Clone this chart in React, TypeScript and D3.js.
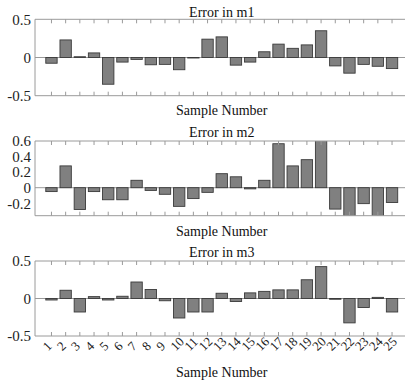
import React from "react";
import * as d3 from "d3";

const samples = d3.range(1, 26);
const m1Errors = [-0.075, 0.23, 0.01, 0.06, -0.35, -0.06, -0.025, -0.095, -0.09, -0.16, -0.005, 0.24, 0.27, -0.1, -0.06, 0.075, 0.175, 0.12, 0.165, 0.35, -0.11, -0.205, -0.09, -0.115, -0.145];
const m2Errors = [-0.05, 0.28, -0.28, -0.05, -0.155, -0.155, 0.095, -0.035, -0.085, -0.24, -0.14, -0.06, 0.18, 0.14, -0.015, 0.095, 0.565, 0.28, 0.36, 0.62, -0.275, -0.4, -0.205, -0.4, -0.19];
const m3Errors = [-0.02, 0.11, -0.18, 0.025, -0.02, 0.03, 0.22, 0.12, -0.03, -0.26, -0.18, -0.18, 0.07, -0.04, 0.075, 0.095, 0.115, 0.115, 0.25, 0.425, -0.01, -0.325, -0.12, 0.015, -0.18];
const titles = ["Error in m1", "Error in m2", "Error in m3"];
const yTicks1 = [0.5, 0, -0.5];
const yTicks2 = [0.6, 0.4, 0.2, 0, -0.2];
const yTicks3 = [0.5, 0, -0.5];
const xLabel = "Sample Number";

const FONT = "'Liberation Serif', 'Times New Roman', serif";
const AXIS = "#9a9a9a";

type PanelProps = {
  id: string;
  values: number[];
  title: string;
  yDomain: [number, number];
  yTicks: number[];
  top: number;
  bottom: number;
  titleY: number;
  labelY: number;
  showXTicks: boolean;
};

function Panel({ id, values, title, yDomain, yTicks, top, bottom, titleY, labelY, showXTicks }: PanelProps) {
  const left = 35;
  const right = 408.5;
  const x = d3.scaleLinear().domain([-0.16, 26.16]).range([left, right]);
  const y = d3.scaleLinear().domain(yDomain).range([bottom, top]);
  const bw = (x(1) - x(0)) * 0.8;
  const cx = (left + right) / 2;
  return (
    <g>
      <defs>
        <clipPath id={id}>
          <rect x={left} y={top} width={right - left} height={bottom - top} />
        </clipPath>
      </defs>
      <g clipPath={`url(#${id})`}>
        <line x1={left} x2={right} y1={y(0)} y2={y(0)} stroke={AXIS} strokeWidth={1} />
        {values.map((v, i) => {
          const s = samples[i];
          const y0 = y(Math.max(0, v));
          const y1 = y(Math.min(0, v));
          return (
            <rect key={i} x={x(s) - bw / 2} y={y0} width={bw} height={Math.max(0.5, y1 - y0)}
              fill="#808080" stroke="#3a3a3a" strokeWidth={0.9} />
          );
        })}
      </g>
      <line x1={left} x2={right} y1={top} y2={top} stroke={AXIS} />
      <line x1={left} x2={right} y1={bottom} y2={bottom} stroke={AXIS} />
      <line x1={left} x2={left} y1={top} y2={bottom} stroke={AXIS} />
      {samples.map((s) => (
        <g key={s}>
          <line x1={x(s)} x2={x(s)} y1={top} y2={top + 4} stroke={AXIS} />
          <line x1={x(s)} x2={x(s)} y1={bottom} y2={bottom - 4} stroke={AXIS} />
        </g>
      ))}
      {yTicks.map((t) => (
        <text key={t} x={31} y={y(t)} dy="0.35em" textAnchor="end" fontFamily={FONT} fontSize={15} fill="#222">
          {String(t)}
        </text>
      ))}
      {showXTicks && samples.map((s) => (
        <text key={s} transform={`translate(${x(s) - 3.5},${bottom + 15.5}) rotate(-45)`} fontFamily={FONT} fontSize={13} fill="#222">
          {s}
        </text>
      ))}
      <text x={cx} y={titleY} textAnchor="middle" fontFamily={FONT} fontSize={14} fill="#111">{title}</text>
      <text x={cx} y={labelY} textAnchor="middle" fontFamily={FONT} fontSize={14} fill="#111">{xLabel}</text>
    </g>
  );
}

export default function App() {
  return (
    <svg width={405} height={382} style={{ position: "absolute", left: 0, top: 0, background: "#fff" }}>
      <Panel id="c1" values={m1Errors} title={titles[0]} yDomain={[-0.5, 0.5]} yTicks={yTicks1}
        top={19.3} bottom={95.7} titleY={16.5} labelY={115} showXTicks={false} />
      <Panel id="c2" values={m2Errors} title={titles[1]} yDomain={[-0.36, 0.6]} yTicks={yTicks2}
        top={141} bottom={215.7} titleY={136.5} labelY={236} showXTicks={false} />
      <Panel id="c3" values={m3Errors} title={titles[2]} yDomain={[-0.5, 0.5]} yTicks={yTicks3}
        top={261} bottom={336} titleY={256.5} labelY={376.5} showXTicks={true} />
    </svg>
  );
}
